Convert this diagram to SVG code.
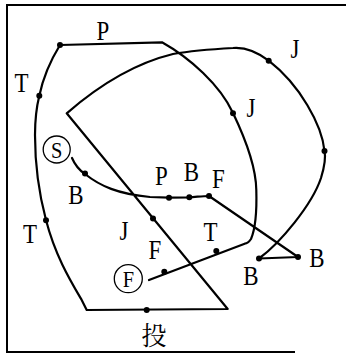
<svg xmlns="http://www.w3.org/2000/svg" width="346" height="354" viewBox="0 0 346 354">
<style>
.ln{fill:none;stroke:#000;stroke-width:2.2;stroke-linejoin:round;stroke-linecap:round}
.fr{fill:none;stroke:#000;stroke-width:2}
.lb{font-family:"Liberation Serif","Times New Roman",serif;font-size:27px;fill:#000;text-anchor:middle}
.sm{font-size:24px}
.cj{font-family:"Noto Serif CJK JP","Noto Sans CJK JP",serif;font-size:25px;fill:#000;text-anchor:middle}
.ring{fill:none;stroke:#000;stroke-width:1.3}
</style>
<defs>
<circle id="d" r="3" fill="#000"/>
</defs>
<rect width="346" height="354" fill="#fff"/>
<g id="frame">
<path class="fr" d="M346,5 L7,5 L7,352 L295,352"/>
</g>
<g id="connectors">
<path class="ln" d="M72,158 C75,165 79,170 85,174 C100,186 118,194 150,197 L169,197.7 L189,197.3 C196,197 202,196 209,196 L298,257 L259,258.5 C280,243 312,205 321,178 C325,165 326,158 324.5,151 C322,125 300,85 268.7,60.7 C256,51 245,47 233,48 C215,49 190,51 173,54 C140,62 105,80 66.7,113.3 L227.7,309 L86.7,310 L81.7,300 C70,280 55,255 46,220 C38,190 35,165 35,135 C35,120 37,105 39.3,95.7 C43,78 52,58 60,45 L162,42.3 C190,58 220,85 233,113 C245,138 256,165 256.3,190 C257,215 254,232 251,239 C249,242 247,243.5 244.7,243.7 L149,280"/>
</g>
<g id="dots">
<use href="#d" x="85" y="173.5"/>
<use href="#d" x="169" y="197.7"/>
<use href="#d" x="189.3" y="197.3"/>
<use href="#d" x="209" y="196"/>
<use href="#d" x="298" y="257"/>
<use href="#d" x="259" y="258.5"/>
<use href="#d" x="324.5" y="151"/>
<use href="#d" x="268.7" y="60.7"/>
<use href="#d" x="153" y="218.5"/>
<use href="#d" x="146.7" y="310"/>
<use href="#d" x="46" y="220.3"/>
<use href="#d" x="39.3" y="95.7"/>
<use href="#d" x="60" y="45"/>
<use href="#d" x="233" y="113.3"/>
<use href="#d" x="216.3" y="251"/>
<use href="#d" x="164.3" y="271.7"/>
</g>
<g id="node-S">
<circle class="ring" cx="56.7" cy="149.5" r="13.5"/>
<text class="lb sm" transform="translate(56.7,157.5) scale(0.85,1)">S</text>
</g>
<g id="node-F">
<circle class="ring" cx="128.3" cy="278.7" r="14"/>
<text class="lb sm" transform="translate(128.3,287) scale(0.85,1)">F</text>
</g>
<g id="labels">
<text class="lb" transform="translate(103,40) scale(0.85,1)">P</text>
<text class="lb" transform="translate(21.5,91.5) scale(0.85,1)">T</text>
<text class="lb" transform="translate(295,58) scale(0.85,1)">J</text>
<text class="lb" transform="translate(251,117) scale(0.85,1)">J</text>
<text class="lb" transform="translate(76,204) scale(0.85,1)">B</text>
<text class="lb" transform="translate(161.5,185) scale(0.85,1)">P</text>
<text class="lb" transform="translate(191.5,181) scale(0.85,1)">B</text>
<text class="lb" transform="translate(218.5,188) scale(0.85,1)">F</text>
<text class="lb" transform="translate(30,243) scale(0.85,1)">T</text>
<text class="lb" transform="translate(124,240) scale(0.85,1)">J</text>
<text class="lb" transform="translate(155,259) scale(0.85,1)">F</text>
<text class="lb" transform="translate(210.5,241) scale(0.85,1)">T</text>
<text class="lb" transform="translate(317,267) scale(0.85,1)">B</text>
<text class="lb" transform="translate(251,285) scale(0.85,1)">B</text>
<text class="cj" x="154" y="345">投</text>
</g>
</svg>
